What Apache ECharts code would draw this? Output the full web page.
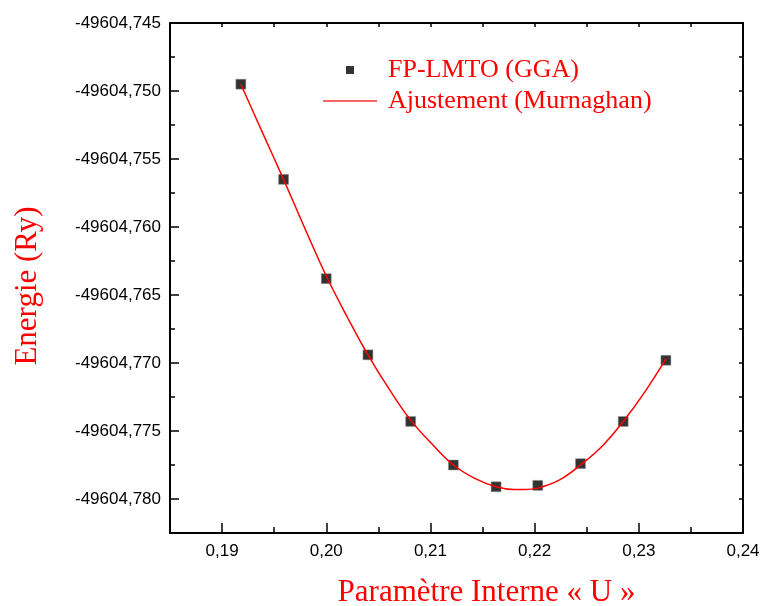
<!DOCTYPE html>
<html>
<head>
<meta charset="utf-8">
<script src="https://cdn.jsdelivr.net/npm/echarts@6/dist/echarts.min.js"></script>
<style>
html,body{margin:0;padding:0;background:#fff;}
#chart{width:766px;height:606px;}
</style>
</head>
<body>
<div id="chart"></div>
<script>
// Data points (FP-LMTO GGA)
var uValues = [0.1918, 0.1959, 0.2000, 0.2040, 0.2081, 0.2122, 0.2163, 0.2203, 0.2244, 0.2285, 0.2326];
var energyValues = [-49604.7495, -49604.7565, -49604.7638, -49604.7694, -49604.7743, -49604.7775, -49604.7791, -49604.7790, -49604.7774, -49604.7743, -49604.7698];
// Fitted curve (Murnaghan)
var fitU = [0.1918, 0.1939, 0.1959, 0.1980, 0.2000, 0.2020, 0.2040, 0.2061, 0.2081, 0.2102, 0.2122, 0.2143, 0.2163, 0.2180, 0.2190, 0.2203, 0.2224, 0.2244, 0.2265, 0.2285, 0.2306, 0.2326];
var fitE = [-49604.7495, -49604.7531, -49604.7565, -49604.7602, -49604.7636, -49604.7666, -49604.7694, -49604.7720, -49604.7742, -49604.7760, -49604.7775, -49604.7785, -49604.7791, -49604.7793, -49604.7793, -49604.7792, -49604.7786, -49604.7775, -49604.7761, -49604.7743, -49604.7721, -49604.7697];
// Axis ticks
var xMajorTicks = [0.19, 0.20, 0.21, 0.22, 0.23, 0.24];
var xMinorTicks = [0.195, 0.205, 0.215, 0.225, 0.235];
var yMajorTicks = [-49604.780, -49604.775, -49604.770, -49604.765, -49604.760, -49604.755, -49604.750, -49604.745];
var yMinorTicks = [-49604.7775, -49604.7725, -49604.7675, -49604.7625, -49604.7575, -49604.7525, -49604.7475];
var xMin = 0.185, xMax = 0.24, yMin = -49604.7825, yMax = -49604.745;

var chart = echarts.init(document.getElementById('chart'), null, {renderer: 'canvas'});
var tickFont = {fontFamily: 'Liberation Sans, Arial, sans-serif', fontSize: 17, color: '#000'};
var titleFont = {fontFamily: 'Liberation Serif, Times New Roman, serif', fontSize: 31, color: '#ff0000'};
var black = {color: '#000', width: 2};

function xAx(pos, ticks, len, showLine, showLabel, extra) {
  var a = {
    type: 'value', position: pos, min: xMin, max: xMax, gridIndex: 0,
    axisLine: {show: showLine, onZero: false, lineStyle: black},
    axisTick: {show: true, inside: true, length: len, customValues: ticks, lineStyle: {color: '#000', width: 1.5}},
    axisLabel: {show: showLabel, customValues: ticks, margin: 10,
      formatter: function (v) { return v.toFixed(2).replace('.', ','); },
      fontFamily: tickFont.fontFamily, fontSize: tickFont.fontSize, color: tickFont.color},
    splitLine: {show: false}
  };
  if (extra) for (var k in extra) a[k] = extra[k];
  return a;
}
function yAx(pos, ticks, len, showLine, showLabel, extra) {
  var a = {
    type: 'value', position: pos, min: yMin, max: yMax, gridIndex: 0, scale: true,
    axisLine: {show: showLine, onZero: false, lineStyle: black},
    axisTick: {show: true, inside: true, length: len, customValues: ticks, lineStyle: {color: '#000', width: 1.5}},
    axisLabel: {show: showLabel, customValues: ticks, margin: 9,
      formatter: function (v) { return v.toFixed(3).replace('.', ','); },
      fontFamily: tickFont.fontFamily, fontSize: tickFont.fontSize, color: tickFont.color},
    splitLine: {show: false}
  };
  if (extra) for (var k in extra) a[k] = extra[k];
  return a;
}

var option = {
  backgroundColor: '#fff',
  animation: false,
  grid: {left: 170, right: 23, top: 23, bottom: 73, containLabel: false, outerBoundsMode: 'none'},
  xAxis: [
    xAx('bottom', xMajorTicks, 10, true, true, {
      name: 'Paramètre Interne « U »', nameLocation: 'middle', nameGap: 44,
      nameTextStyle: {fontFamily: titleFont.fontFamily, fontSize: titleFont.fontSize, color: titleFont.color, padding: [0, 0, 0, 60]}
    }),
    xAx('bottom', xMinorTicks, 6, false, false),
    xAx('top', xMajorTicks.concat(xMinorTicks), 4, true, false)
  ],
  yAxis: [
    yAx('left', yMajorTicks, 9, true, true, {
      name: 'Energie (Ry)', nameLocation: 'middle', nameGap: 127, nameRotate: 90,
      nameTextStyle: {fontFamily: titleFont.fontFamily, fontSize: titleFont.fontSize, color: titleFont.color, padding: [0, 16, 0, 0]}
    }),
    yAx('left', yMinorTicks, 5, false, false),
    yAx('right', yMajorTicks.concat(yMinorTicks), 4, true, false)
  ],
  legend: [
    {
      data: ['FP-LMTO (GGA)'], left: 346, top: 56, orient: 'vertical', padding: 0,
      icon: 'rect', itemWidth: 8, itemHeight: 8,
      itemStyle: {color: '#000', borderWidth: 0},
      textStyle: {fontFamily: 'Liberation Serif, Times New Roman, serif', fontSize: 26, color: '#ff0000', padding: [0, 0, 0, 29], lineHeight: 28}
    },
    {
      data: ['Ajustement (Murnaghan)'], left: 323, top: 87, orient: 'vertical', padding: 0,
      icon: 'rect', itemWidth: 54, itemHeight: 1.5,
      itemStyle: {color: '#ff3030', borderWidth: 0},
      textStyle: {fontFamily: 'Liberation Serif, Times New Roman, serif', fontSize: 26, color: '#ff0000', padding: [0, 0, 0, 6], lineHeight: 28}
    }
  ],
  series: [
    {
      name: 'Ajustement (Murnaghan)', type: 'line', xAxisIndex: 0, yAxisIndex: 0,
      data: fitU.map(function (u, i) { return [u, fitE[i]]; }),
      smooth: 0.4, symbol: 'none', showSymbol: false,
      lineStyle: {color: '#ff0000', width: 1.5}, itemStyle: {color: '#ff0000'}, z: 3
    },
    {
      name: 'FP-LMTO (GGA)', type: 'scatter', xAxisIndex: 0, yAxisIndex: 0,
      data: uValues.map(function (u, i) { return [u, energyValues[i]]; }),
      symbol: 'rect', symbolSize: 10,
      itemStyle: {color: '#000', borderColor: '#999', borderWidth: 0.6}, z: 2
    }
  ]
};
chart.setOption(option);
</script>
</body>
</html>
